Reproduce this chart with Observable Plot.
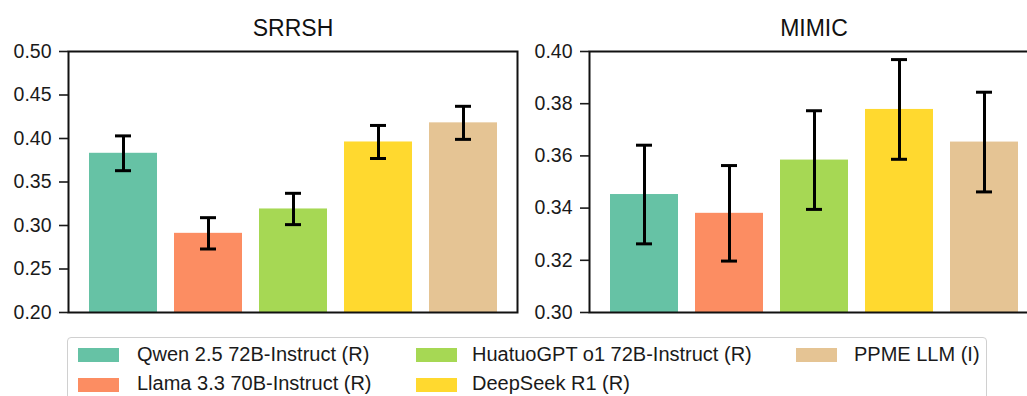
<!DOCTYPE html>
<html>
<head>
<meta charset="utf-8">
<script src="https://cdn.jsdelivr.net/npm/d3@7"></script>
<script src="https://cdn.jsdelivr.net/npm/@observablehq/plot@0.6"></script>
<style>
  html, body { margin: 0; padding: 0; background: #fff; overflow: hidden; width: 1027px; height: 396px; }
  #wrap { position: relative; width: 1027px; height: 396px; overflow: hidden; font-family: "Liberation Sans", Arial, sans-serif; }
  .panel { position: absolute; top: 0; width: 530px; height: 325px; }
  .panel svg { max-width: none !important; }
  #legend { position: absolute; left: 67px; top: 337px; width: 920px; height: 80px; border: 1.5px solid #d0d0d0; border-radius: 4px; box-sizing: border-box; }
  .sw { position: absolute; width: 41px; height: 14px; }
  .lt { position: absolute; font-size: 20px; color: #1a1a1a; white-space: nowrap; line-height: 20px; }
</style>
</head>
<body>
<div id="wrap">
  <div id="left" class="panel" style="left:0px"></div>
  <div id="right" class="panel" style="left:520px"></div>
  <div id="legend"></div>
</div>
<script>
// ---- data ----
const models = [
  "Qwen 2.5 72B-Instruct (R)",
  "Llama 3.3 70B-Instruct (R)",
  "HuatuoGPT o1 72B-Instruct (R)",
  "DeepSeek R1 (R)",
  "PPME LLM (I)"
];
const colors = ["#66c2a5", "#fc8d62", "#a6d854", "#ffd92f", "#e5c494"];

const srrshMean = [0.383, 0.291, 0.319, 0.396, 0.418];
const srrshErr  = [0.020, 0.018, 0.018, 0.019, 0.019];
const mimicMean = [0.3452, 0.3380, 0.3584, 0.3778, 0.3653];
const mimicErr  = [0.0189, 0.0183, 0.0189, 0.0191, 0.0191];

const srrshDomain = [0.20, 0.50];
const srrshTicks = [0.20, 0.25, 0.30, 0.35, 0.40, 0.45, 0.50];
const mimicDomain = [0.30, 0.40];
const mimicTicks = [0.30, 0.32, 0.34, 0.36, 0.38, 0.40];

// legend layout: column / row per model
const legendCol = [0, 0, 1, 1, 2];
const legendRow = [0, 1, 0, 1, 0];

function panel(title, means, errs, domain, ticks, marginLeft) {
  const rows = models.map((m, i) => ({model: m, v: means[i], lo: means[i] - errs[i], hi: means[i] + errs[i], c: colors[i]}));
  const width = 530;
  return Plot.plot({
    width,
    height: 325,
    marginTop: 51,
    marginBottom: 13,
    marginLeft,
    marginRight: width - marginLeft - 449,
    style: {fontFamily: '"Liberation Sans", Arial, sans-serif', fontSize: "19px", color: "#1a1a1a", background: "transparent", overflow: "visible", maxWidth: "none"},
    x: {domain: models, paddingInner: 0.2, paddingOuter: 0.24, axis: null},
    y: {domain, ticks, tickFormat: ".2f", tickSize: 9, tickPadding: 8, label: null, grid: false},
    marks: [
      Plot.barY(rows, {x: "model", y1: domain[0] - 1, y2: "v", fill: "c", clip: true}),
      Plot.ruleX(rows, {x: "model", y1: "lo", y2: "hi", stroke: "#000", strokeWidth: 3}),
      Plot.tickY(rows, {x: "model", y: "lo", stroke: "#000", strokeWidth: 3, insetLeft: 26, insetRight: 26}),
      Plot.tickY(rows, {x: "model", y: "hi", stroke: "#000", strokeWidth: 3, insetLeft: 26, insetRight: 26}),
      Plot.frame({stroke: "#111", strokeWidth: 2}),
      Plot.axisY({ticks, tickFormat: ".2f", tickSize: 9, tickPadding: 8, strokeWidth: 1.6, fontSize: 19.5}),
      Plot.text([title], {text: d => d, frameAnchor: "top", dy: -16, lineAnchor: "bottom", fontSize: 23, fill: "#111"})
    ]
  });
}

document.getElementById("left").appendChild(panel("SRRSH", srrshMean, srrshErr, srrshDomain, srrshTicks, 68));
document.getElementById("right").appendChild(panel("MIMIC", mimicMean, mimicErr, mimicDomain, mimicTicks, 69));

// legend
const legend = document.getElementById("legend");
const swX = [10, 348, 728];
const txX = [69, 404, 786];
const rowSwY = [10, 40];
const rowTxY = [6, 35];
models.forEach((m, i) => {
  const sw = document.createElement("div");
  sw.className = "sw";
  sw.style.left = swX[legendCol[i]] + "px";
  sw.style.top = rowSwY[legendRow[i]] + "px";
  sw.style.background = colors[i];
  legend.appendChild(sw);
  const t = document.createElement("div");
  t.className = "lt";
  t.style.left = txX[legendCol[i]] + "px";
  t.style.top = rowTxY[legendRow[i]] + "px";
  t.textContent = m;
  legend.appendChild(t);
});
</script>
</body>
</html>
